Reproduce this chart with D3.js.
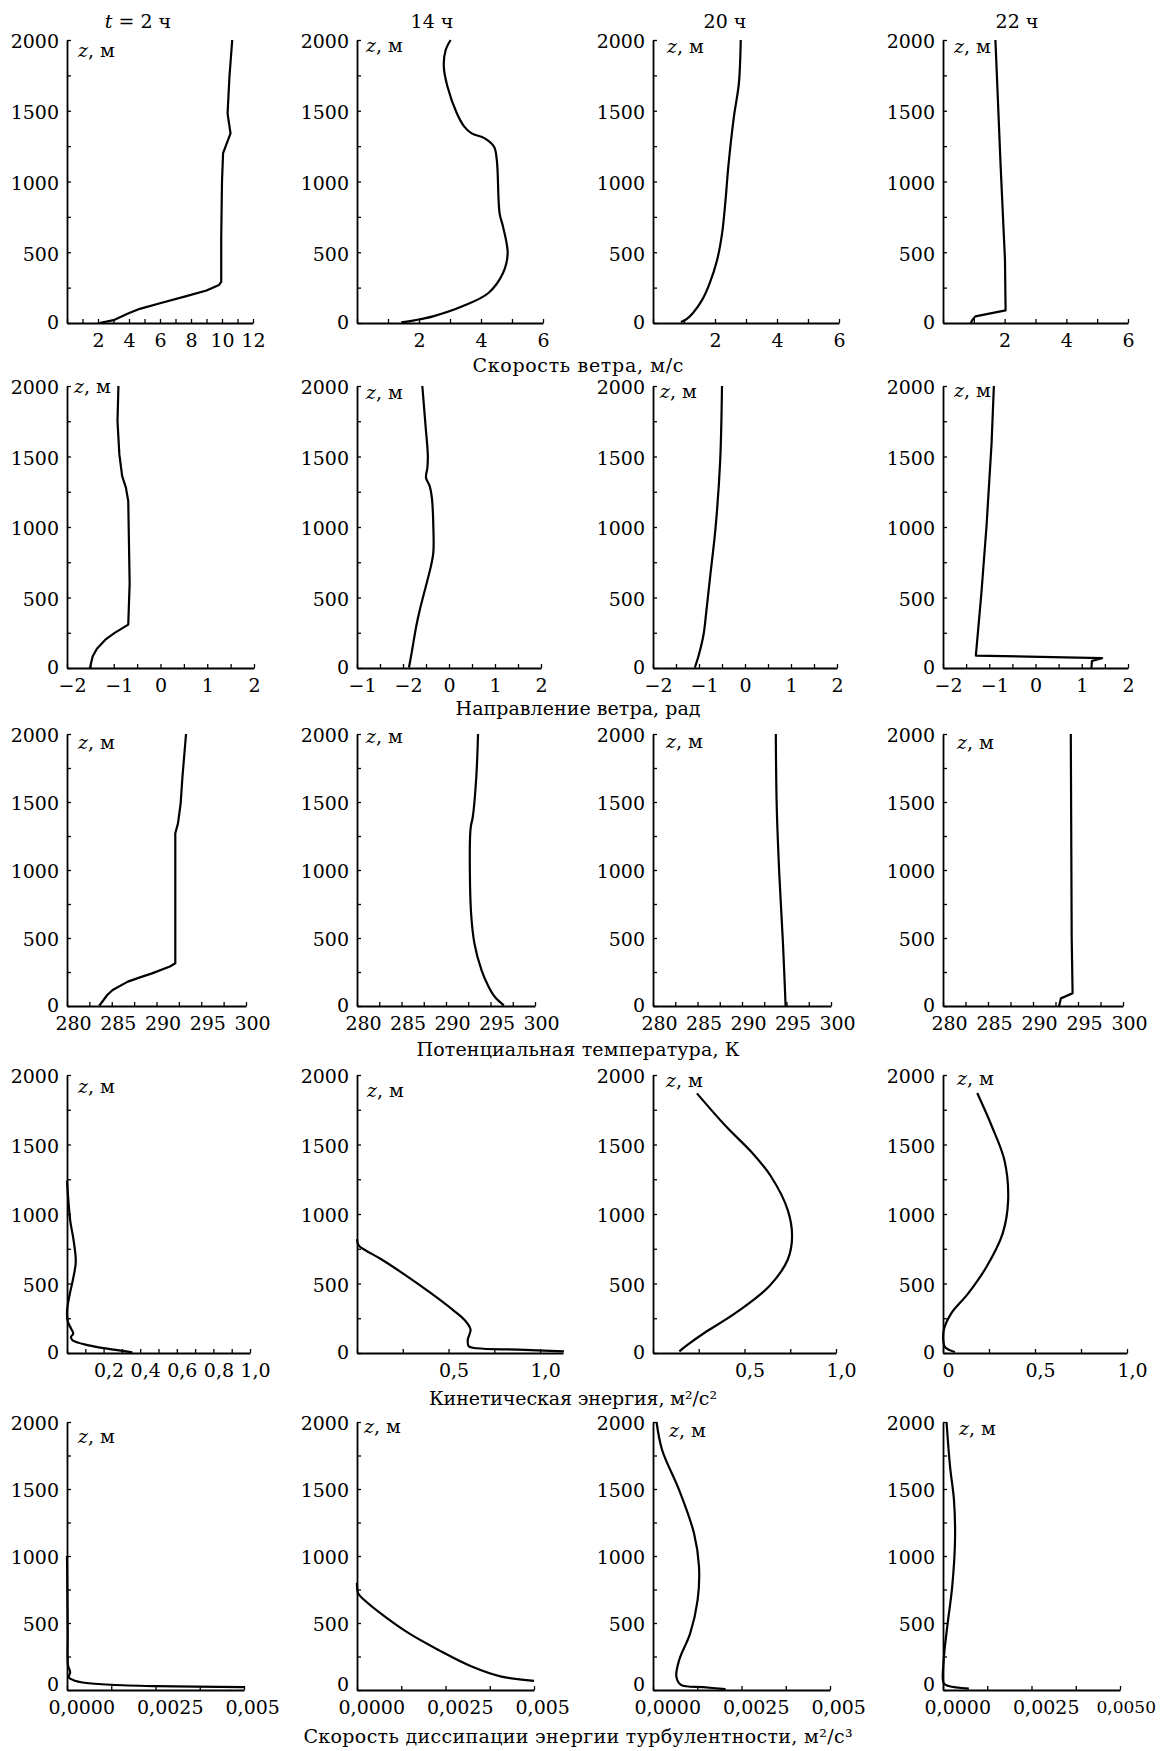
<!DOCTYPE html>
<meta charset="utf-8">
<style>
body { margin: 0; background: #fff; }
svg { display: block; background: #fff; font-family: 'DejaVu Serif', serif; }
.axis path { stroke: #000; stroke-width: 1.8px; fill: none; }
.axis line { stroke: #000; stroke-width: 1.3px; }
.axis text { font-family: 'DejaVu Serif', serif; font-size: 19px; fill: #000; }
.profile { fill: none; stroke: #000; stroke-width: 2.2px; stroke-linejoin: round; }
.lbl { font-size: 19px; fill: #000; }
</style>
<svg width="1163" height="1751"></svg>
<script src="https://d3js.org/d3.v7.min.js"></script>
<script>
// profiles, each point is [value, z in metres]
// wind speed, m/s
var speed02 = [[2.1,0],[3.0,20],[3.9,65],[4.7,100],[6.0,140],[7.7,190],[9.0,230],[9.8,268],[9.95,290],[9.95,600],[10.0,1000],[10.07,1200],[10.55,1340],[10.36,1480],[10.48,1740],[10.66,2000]];
var speed14 = [[1.43,5],[1.85,19],[2.45,47],[3.4,118],[4.24,212],[4.71,353],[4.86,492],[4.71,681],[4.6,775],[4.51,1152],[4.42,1246],[4.12,1305],[3.7,1340],[3.46,1388],[3.22,1482],[2.92,1670],[2.8,1812],[2.86,1929],[3.02,2000]];
var speed20 = [[0.9,7],[1.06,24],[1.29,71],[1.59,165],[1.83,282],[2.07,447],[2.23,635],[2.34,870],[2.43,1105],[2.61,1458],[2.77,1694],[2.83,2000]];
var speed22 = [[0.9,0],[0.96,24],[1.05,47],[2.03,89],[2.01,447],[1.87,1105],[1.7,2000]];
// wind direction, rad
var dir02 = [[-1.51,0],[-1.45,83],[-1.36,137],[-1.18,201],[-0.98,249],[-0.69,308],[-0.66,600],[-0.69,1184],[-0.74,1279],[-0.82,1361],[-0.88,1515],[-0.92,1751],[-0.9,2000]];
var dir14 = [[-0.87,4],[-0.81,111],[-0.71,300],[-0.63,418],[-0.5,584],[-0.39,726],[-0.34,820],[-0.34,1000],[-0.37,1200],[-0.42,1290],[-0.5,1350],[-0.47,1420],[-0.46,1506],[-0.51,1718],[-0.58,2000]];
var dir20 = [[-1.09,3],[-1.0,97],[-0.9,239],[-0.84,404],[-0.76,641],[-0.64,995],[-0.54,1468],[-0.5,2000]];
var dir22 = [[1.21,0],[1.22,50],[1.44,70],[-1.29,88],[-1.17,530],[-1.06,1002],[-0.95,1593],[-0.9,2000]];
// potential temperature, K
var theta02 = [[283.6,2],[284.5,81],[285.1,118],[286.8,179],[288.4,216],[289.5,240],[291.5,290],[292.1,314],[292.1,1270],[292.4,1343],[292.7,1490],[292.9,1686],[293.3,2000]];
var theta14 = [[296.5,5],[295.5,66],[294.8,140],[294.0,262],[293.2,458],[292.8,702],[292.7,1240],[292.8,1325],[293.0,1386],[293.4,1680],[293.6,2000]];
var theta20 = [[294.9,0],[294.6,466],[294.2,957],[293.9,1472],[293.8,2000]];
var theta22 = [[292.9,0],[293.1,56],[294.4,93],[294.3,500],[294.2,2000]];
// turbulent kinetic energy, m2/s2
var tke02 = [[0.357,5],[0.22,31],[0.119,55],[0.03,92],[0.022,116],[0.034,140],[0.022,176],[0.005,224],[0,297],[0.014,417],[0.034,538],[0.048,659],[0.034,828],[0.018,949],[0,1240]];
var tke14 = [[1.13,12],[0.88,24],[0.655,34],[0.61,48],[0.605,96],[0.62,169],[0.585,241],[0.52,314],[0.40,434],[0.27,555],[0.13,676],[0.05,736],[0.01,772],[0,820]];
var tke20 = [[0.144,12],[0.19,60],[0.28,144],[0.452,288],[0.635,480],[0.736,671],[0.76,839],[0.736,1030],[0.645,1270],[0.544,1437],[0.40,1629],[0.24,1868]];
var tke22 = [[0.065,7],[0.014,38],[0.004,67],[0.004,163],[0.044,283],[0.136,427],[0.236,619],[0.324,859],[0.354,1098],[0.334,1386],[0.267,1626],[0.186,1870]];
// dissipation rate, m2/s3
var eps02 = [[0.005,21],[0.0025,29],[0.00124,39],[0.0005,54],[0.0002,71],[0.00005,96],[0.00009,133],[0.00003,183],[0.00002,432],[0,1000]];
var eps14 = [[0.005,68],[0.00408,100],[0.00324,175],[0.0023,299],[0.00146,424],[0.00078,549],[0.0002,673],[0.00003,723],[0,800]];
var eps20 = [[0.00205,6],[0.00142,21],[0.00079,38],[0.00066,100],[0.00074,224],[0.00105,423],[0.00126,671],[0.0013,920],[0.00116,1168],[0.00074,1491],[0.00026,1789],[0.0001,2000]];
var eps22 = [[0.00073,10],[0.00016,30],[0.00002,50],[0.00002,224],[0.00012,473],[0.00026,771],[0.00034,1119],[0.00031,1417],[0.0002,1665],[0.0001,2000]];

var colTitles = ["2 ч", "14 ч", "20 ч", "22 ч"];
var rowTitles = ["Скорость ветра, м/с", "Направление ветра, рад", "Потенциальная температура, К",
                 "Кинетическая энергия, м²/с²", "Скорость диссипации энергии турбулентности, м²/с³"];
var zTicks = [0, 250, 500, 750, 1000, 1250, 1500, 1750, 2000];
var zLabelValues = [0, 500, 1000, 1500, 2000];

var xDomains = [
  [[0, 12], [0, 6], [0, 6], [0, 6]],
  [[-2, 2], [-2, 2], [-2, 2], [-2, 2]],
  [[280, 300], [280, 300], [280, 300], [280, 300]],
  [[0, 1], [0, 1.125], [0, 1], [0, 1]],
  [[0, 0.005], [0, 0.005], [0, 0.005], [0, 0.005]]
];
var xTickSteps = [
  [1, 1, 1, 1],
  [0.5, 0.5, 0.5, 0.5],
  [2.5, 2.5, 2.5, 2.5],
  [0.1, 0.25, 0.25, 0.25],
  [0.00125, 0.00125, 0.00125, 0.00125]
];
var xLabelValues = [
  [[2, 4, 6, 8, 10, 12], [2, 4, 6], [2, 4, 6], [2, 4, 6]],
  [[-2, -1, 0, 1, 2], [-2, -1, 0, 1, 2], [-2, -1, 0, 1, 2], [-2, -1, 0, 1, 2]],
  [[280, 285, 290, 295, 300], [280, 285, 290, 295, 300], [280, 285, 290, 295, 300], [280, 285, 290, 295, 300]],
  [[0.2, 0.4, 0.6, 0.8, 1.0], [0.5, 1.0], [0.5, 1.0], [0, 0.5, 1.0]],
  [[0, 0.0025, 0.005], [0, 0.0025, 0.005], [0, 0.0025, 0.005], [0, 0.0025, 0.005]]
];
var xLabelTexts = [
  [["2", "4", "6", "8", "10", "12"], ["2", "4", "6"], ["2", "4", "6"], ["2", "4", "6"]],
  [["−2", "−1", "0", "1", "2"], ["−1", "−2", "0", "1", "2"], ["−2", "−1", "0", "1", "2"], ["−2", "−1", "0", "1", "2"]],
  [["280", "285", "290", "295", "300"], ["280", "285", "290", "295", "300"], ["280", "285", "290", "295", "300"], ["280", "285", "290", "295", "300"]],
  [["0,2", "0,4", "0,6", "0,8", "1,0"], ["0,5", "1,0"], ["0,5", "1,0"], ["0", "0,5", "1,0"]],
  [["0,0000", "0,0025", "0,005"], ["0,0000", "0,0025", "0,005"], ["0,0000", "0,0025", "0,005"], ["0,0000", "0,0025", "0,0050"]]
];

var profiles = [
  [speed02, speed14, speed20, speed22],
  [dir02, dir14, dir20, dir22],
  [theta02, theta14, theta20, theta22],
  [tke02, tke14, tke20, tke22],
  [eps02, eps14, eps20, eps22]
];

// layout
var colX = [67, 357, 653, 943];
var rowTop = [40, 386, 734, 1075, 1422];
var rowBottom = [323, 668, 1006, 1353, 1690];
var panelW = [
  [186, 186, 186, 185],
  [187, 184, 184, 185],
  [179, 178, 178, 180],
  [183, 206, 183, 184],
  [177, 177, 177, 177]
];
var kinked = [[1, 0, 0, 1], [1, 0, 0, 1], [1, 0, 0, 1], [0, 0, 0, 0], [0, 0, 0, 0]];
var zLabelPos = [
  [[78, 57], [366, 52], [667, 53], [954, 53]],
  [[74, 393], [366, 399], [660, 398], [954, 397]],
  [[78, 749], [366, 743], [666, 748], [957, 749]],
  [[78, 1093], [367, 1097], [666, 1087], [957, 1085]],
  [[78, 1443], [364, 1433], [669, 1437], [959, 1435]]
];
var colTitleX = [138, 432, 725, 1017];
var rowTitleY = [372, 715, 1056, 1405, 1743];
var rowTitleX = [578, 578, 578, 573, 578];
var rowTitleW = [211, 245, 323, 288, 549];

var svg = d3.select("svg");

// column titles
colTitles.forEach(function(t, c) {
  var txt = svg.append("text").attr("class", "lbl")
      .attr("x", colTitleX[c]).attr("y", 28)
      .attr("text-anchor", "middle");
  if (c == 0) {
    txt.append("tspan").style("font-style", "italic").text("t");
    txt.append("tspan").text(" = " + t);
  } else {
    txt.text(t);
  }
});

// row titles
rowTitles.forEach(function(t, r) {
  svg.append("text").attr("class", "lbl")
      .attr("x", rowTitleX[r]).attr("y", rowTitleY[r])
      .attr("text-anchor", "middle")
      .attr("textLength", rowTitleW[r])
      .attr("lengthAdjust", "spacing")
      .text(t);
});

profiles.forEach(function(row, r) {
  row.forEach(function(data, c) {
    var dom = xDomains[r][c];
    var x0 = colX[c];
    var x = d3.scaleLinear().domain(dom).range([x0, x0 + panelW[r][c]]);
    var y = d3.scaleLinear().domain([0, 2000]).range([rowBottom[r], rowTop[r]]);

    var g = svg.append("g");

    // x ticks
    var step = xTickSteps[r][c];
    var n = Math.floor((dom[1] - dom[0]) / step + 1e-9);
    var ticks = d3.range(0, n + 1).map(function(i) { return dom[0] + i * step; });
    var labVals = xLabelValues[r][c], labTxt = xLabelTexts[r][c];
    function xfmt(d) {
      for (var i = 0; i < labVals.length; i++) {
        if (Math.abs(labVals[i] - d) < step / 10) return labTxt[i];
      }
      return "";
    }
    var xa = g.append("g").attr("class", "axis")
        .attr("transform", "translate(0," + rowBottom[r] + ")")
        .call(d3.axisBottom(x).tickValues(ticks).tickFormat(xfmt)
          .tickSizeInner(-4).tickSizeOuter(0).tickPadding(11));
    xa.selectAll("text").each(function() {
      var t = d3.select(this), s = t.text();
      if (r == 4) t.attr("text-anchor", "start").attr("dx", -19);
      else if (r == 2) t.attr("dx", 6);
      else if (r == 3) t.attr("dx", 5);
      else if (s.charAt(0) == "−") t.attr("dx", 5);
      // last label of the bottom-right panel runs into the page edge
      if (r == 4 && c == 3 && s == "0,0050") {
        t.attr("dx", -24).style("font-size", "17px");
      }
    });

    // z axis
    var ya = g.append("g").attr("class", "axis")
        .attr("transform", "translate(" + x0 + ",0)")
        .call(d3.axisLeft(y).tickValues(zTicks)
          .tickFormat(function(d) { return zLabelValues.indexOf(d) >= 0 ? d : ""; })
          .tickSizeInner(-4).tickSizeOuter(0).tickPadding(8));
    ya.selectAll("text").attr("dy", function(d) {
      if (d == 0 && r == 4) return "0.05em";
      if (d == 0) return "0.3em";
      return "0.42em";
    });

    // profile curve
    var line = d3.line()
        .x(function(d) { return x(d[0]); })
        .y(function(d) { return y(d[1]); })
        .curve(kinked[r][c] ? d3.curveLinear : d3.curveCatmullRom.alpha(0.5));
    g.append("path").attr("class", "profile").attr("d", line(data));

    // z, m label
    var zl = g.append("text").attr("class", "lbl")
        .attr("x", zLabelPos[r][c][0]).attr("y", zLabelPos[r][c][1]);
    zl.append("tspan").style("font-style", "italic").text("z");
    zl.append("tspan").text(", м");
  });
});
</script>
